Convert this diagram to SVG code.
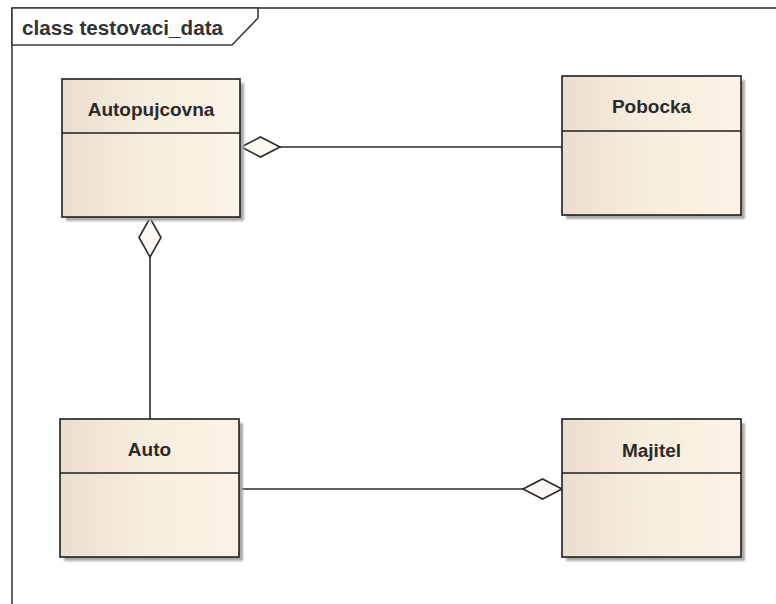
<svg xmlns="http://www.w3.org/2000/svg" width="776" height="604" viewBox="0 0 776 604">
  <defs>
    <linearGradient id="boxFill" x1="0" y1="0" x2="1" y2="0">
      <stop offset="0" stop-color="#eadfcf"/>
      <stop offset="0.5" stop-color="#f8eedf"/>
      <stop offset="1" stop-color="#fcf3e6"/>
    </linearGradient>
    <filter id="blur" x="-10%" y="-10%" width="120%" height="120%">
      <feGaussianBlur stdDeviation="1"/>
    </filter>
  </defs>
  <style>
    .frame { fill: none; stroke: #3a3a3a; stroke-width: 1.6; }
    .tab { fill: #ffffff; stroke: #3a3a3a; stroke-width: 1.6; }
    .shadow { fill: #a8a8a8; filter: url(#blur); }
    .box { fill: url(#boxFill); stroke: #1e1e1e; stroke-width: 1.6; }
    .div { stroke: #1e1e1e; stroke-width: 1.6; }
    .title { font-family: "Liberation Sans", Arial, sans-serif; font-size: 19px; font-weight: bold; fill: #2a2a2a; text-anchor: middle; }
    .frametitle { font-family: "Liberation Sans", Arial, sans-serif; font-size: 20px; font-weight: bold; fill: #333333; }
    .conn { fill: none; stroke: #2a2a2a; stroke-width: 1.6; }
    .diamond { fill: #fdf9f3; stroke: #2a2a2a; stroke-width: 1.6; }
  </style>
  <rect width="776" height="604" fill="#ffffff"/>
  <g id="frame">
    <rect class="frame" x="12" y="8" width="800" height="700"/>
    <path class="tab" d="M12,8 H258 V18 L232,45 H12 Z"/>
    <text class="frametitle" x="22" y="35" textLength="201" lengthAdjust="spacingAndGlyphs">class testovaci_data</text>
  </g>
  <g id="connectors">
    <line class="conn" x1="280" y1="147" x2="562" y2="147"/>
    <polygon class="diamond" points="241,147 260.5,137 280,147 260.5,157"/>
    <line class="conn" x1="150" y1="257" x2="150" y2="419"/>
    <polygon class="diamond" points="150,218 161,237.5 150,257 139,237.5"/>
    <line class="conn" x1="239" y1="489" x2="523" y2="489"/>
    <polygon class="diamond" points="523,489 542.5,479 562,489 542.5,499"/>
  </g>
  <g id="node-autopujcovna">
    <rect class="shadow" x="66" y="83" width="178" height="138"/>
    <rect class="box" x="62" y="79" width="178" height="138"/>
    <line class="div" x1="62" y1="133" x2="240" y2="133"/>
    <text class="title" x="151" y="116">Autopujcovna</text>
  </g>
  <g id="node-pobocka">
    <rect class="shadow" x="566" y="80" width="179" height="139"/>
    <rect class="box" x="562" y="76" width="179" height="139"/>
    <line class="div" x1="562" y1="131" x2="741" y2="131"/>
    <text class="title" x="651.5" y="113">Pobocka</text>
  </g>
  <g id="node-auto">
    <rect class="shadow" x="64" y="423" width="179" height="138"/>
    <rect class="box" x="60" y="419" width="179" height="138"/>
    <line class="div" x1="60" y1="473" x2="239" y2="473"/>
    <text class="title" x="149.5" y="456">Auto</text>
  </g>
  <g id="node-majitel">
    <rect class="shadow" x="566" y="423" width="179" height="138"/>
    <rect class="box" x="562" y="419" width="179" height="138"/>
    <line class="div" x1="562" y1="473" x2="741" y2="473"/>
    <text class="title" x="651.5" y="457">Majitel</text>
  </g>
</svg>
